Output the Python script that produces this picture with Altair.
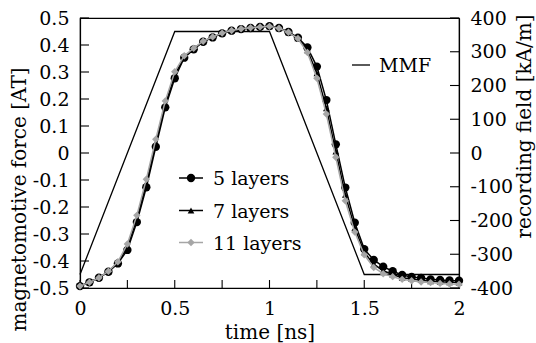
import altair as alt
import pandas as pd

# ---- data ----
time_ns = [round(i * 0.05, 2) for i in range(41)]

layers5 = [-0.493, -0.479, -0.462, -0.440, -0.409, -0.359, -0.256, -0.127, 0.023, 0.169,
           0.277, 0.353, 0.384, 0.412, 0.428, 0.443, 0.453, 0.459, 0.463, 0.467,
           0.470, 0.463, 0.448, 0.427, 0.391, 0.320, 0.196, 0.032, -0.128, -0.258,
           -0.356, -0.396, -0.421, -0.438, -0.452, -0.459, -0.463, -0.468, -0.470, -0.472,
           -0.473]
layers7 = [-0.493, -0.479, -0.462, -0.439, -0.406, -0.348, -0.244, -0.112, 0.037, 0.181,
           0.289, 0.357, 0.386, 0.413, 0.429, 0.443, 0.453, 0.459, 0.463, 0.467,
           0.469, 0.462, 0.447, 0.425, 0.380, 0.295, 0.165, 0.005, -0.155, -0.278,
           -0.368, -0.412, -0.436, -0.450, -0.462, -0.467, -0.471, -0.475, -0.477, -0.479,
           -0.480]
layers11 = [-0.493, -0.479, -0.462, -0.438, -0.403, -0.337, -0.231, -0.097, 0.051, 0.193,
            0.301, 0.360, 0.388, 0.414, 0.430, 0.444, 0.454, 0.460, 0.464, 0.467,
            0.469, 0.462, 0.447, 0.424, 0.372, 0.277, 0.144, -0.016, -0.177, -0.293,
            -0.377, -0.424, -0.447, -0.458, -0.468, -0.473, -0.478, -0.480, -0.483, -0.485,
            -0.486]

mmf_t = [0, 0.5, 1.0, 1.5, 2.0]
mmf_v = [-0.45, 0.45, 0.45, -0.45, -0.45]

series_names = ["5 layers", "7 layers", "11 layers"]
left_ticks = [round(-0.5 + 0.1 * i, 1) for i in range(11)]
right_ticks = [-400, -300, -200, -100, 0, 100, 200, 300, 400]
x_ticks = [0, 0.25, 0.5, 0.75, 1.0, 1.25, 1.5, 1.75, 2.0]
x_labels = [0, 0.5, 1.0, 1.5, 2.0]

# ---- style ----
FONT = "DejaVu Serif"
FS = 19
TFS = 20
W, H = 379, 270
X_DOM, Y_DOM, R_DOM = [0, 2], [-0.5, 0.5], [-400, 400]
TICK_Y_PX, TICK_X_PX = 9, 8   # inward tick lengths in pixels
tick_dx = TICK_Y_PX / W * (X_DOM[1] - X_DOM[0])
tick_dy = TICK_X_PX / H * (Y_DOM[1] - Y_DOM[0])

series_style = {
    "5 layers": dict(color="black", shape="circle", size=70, line="black"),
    "7 layers": dict(color="black", shape="triangle-up", size=45, line="black"),
    "11 layers": dict(color="#a6a6a6", shape="diamond", size=55, line="#a6a6a6"),
}
values_map = {"5 layers": layers5, "7 layers": layers7, "11 layers": layers11}

axis_style = dict(
    labelFont=FONT, labelFontSize=FS, labelColor="black",
    titleFont=FONT, titleFontSize=TFS, titleColor="black", titleFontWeight="normal",
    domainColor="black", domainWidth=1.2, ticks=False, labelPadding=11,
    labelFlush=False, labelOverlap=False, grid=False,
)

xscale = alt.Scale(domain=X_DOM, nice=False, zero=False)
yscale = alt.Scale(domain=Y_DOM, nice=False, zero=False)
rscale = alt.Scale(domain=R_DOM, nice=False, zero=False)

minus_expr = "(datum.value < 0 ? '-' : '') + format(abs(datum.value), '~g')"

x_axis = alt.Axis(
    values=x_labels, labelExpr="format(datum.value, '~g')",
    title="time [ns]",
    titleY=50, titleBaseline="alphabetic", **axis_style,
)
y_axis = alt.Axis(
    values=left_ticks, labelExpr=minus_expr,
    title="magnetomotive force [AT]",
    titleX=-55, titleY=181, titleBaseline="alphabetic", **axis_style,
)

x_enc = alt.X("t:Q", scale=xscale, axis=x_axis)

layers = []

# inward tick marks, placed through the scales
ltick = pd.DataFrame({"v": left_ticks})
layers.append(alt.Chart(ltick).mark_rule(color="black", strokeWidth=1.1).encode(
    y=alt.Y("v:Q", scale=yscale, axis=y_axis),
    x=alt.X(datum=X_DOM[0], scale=xscale, axis=x_axis),
    x2=alt.X2(datum=X_DOM[0] + tick_dx),
))
xtick = pd.DataFrame({"t": x_ticks})
layers.append(alt.Chart(xtick).mark_rule(color="black", strokeWidth=1.1).encode(
    x=x_enc,
    y=alt.Y(datum=Y_DOM[0], scale=yscale, axis=y_axis),
    y2=alt.Y2(datum=Y_DOM[0] + tick_dy),
))

# MMF trapezoid
mmf_df = pd.DataFrame({"t": mmf_t, "v": mmf_v})
layers.append(
    alt.Chart(mmf_df).mark_line(color="black", strokeWidth=1.3).encode(
        x=x_enc, y=alt.Y("v:Q", scale=yscale, axis=y_axis)
    )
)

for name in ["7 layers", "5 layers", "11 layers"]:
    st = series_style[name]
    df = pd.DataFrame({"t": time_ns, "v": values_map[name]})
    base = alt.Chart(df).encode(x=x_enc, y=alt.Y("v:Q", scale=yscale, axis=y_axis))
    layers.append(base.mark_line(color=st["line"], strokeWidth=1.5))
    layers.append(base.mark_point(shape=st["shape"], size=st["size"], filled=True,
                                  color=st["color"], opacity=1))

# legend (decoration)
leg_y = [160, 192.5, 224.5]
for i, name in enumerate(series_names):
    st = series_style[name]
    ldf = pd.DataFrame({"label": [name]})
    b = alt.Chart(ldf)
    layers.append(b.mark_rule(color=st["line"], strokeWidth=1.5).encode(
        x=alt.value(99), x2=alt.value(123), y=alt.value(leg_y[i])))
    layers.append(b.mark_point(shape=st["shape"], size=st["size"], filled=True,
                               color=st["color"], opacity=1).encode(
        x=alt.value(111), y=alt.value(leg_y[i])))
    layers.append(b.mark_text(font=FONT, fontSize=FS, align="left", baseline="middle",
                              color="black").encode(
        x=alt.value(133), y=alt.value(leg_y[i] + 1), text="label:N"))

mdf = pd.DataFrame({"label": ["MMF"]})
layers.append(alt.Chart(mdf).mark_rule(color="black", strokeWidth=1.3).encode(
    x=alt.value(272), x2=alt.value(290), y=alt.value(47)))
layers.append(alt.Chart(mdf).mark_text(font=FONT, fontSize=FS, align="left",
                                       baseline="middle", color="black").encode(
    x=alt.value(299), y=alt.value(48), text="label:N"))

left = alt.layer(*layers)

# right axis (recording field) with its inward ticks
rdf = pd.DataFrame({"rf": right_ticks})
right = alt.Chart(rdf).mark_rule(color="black", strokeWidth=1.1).encode(
    y=alt.Y("rf:Q", scale=rscale,
            axis=alt.Axis(orient="right", values=right_ticks, labelExpr=minus_expr,
                          title="recording field [kA/m]",
                          titleAngle=270, titleX=71, titleY=108,
                          titleBaseline="alphabetic", **axis_style)),
    x=alt.X(datum=X_DOM[1] - tick_dx, scale=xscale, axis=x_axis),
    x2=alt.X2(datum=X_DOM[1]),
)

chart = alt.layer(left, right).resolve_scale(y="independent").properties(
    width=W, height=H,
    background="white",
    autosize=alt.AutoSizeParams(type="none"),
    padding={"left": 80, "top": 18, "right": 77, "bottom": 55},
).configure_view(stroke="black", strokeWidth=1.2)

chart.save("out.html", embed_options={"renderer": "svg", "actions": False})
